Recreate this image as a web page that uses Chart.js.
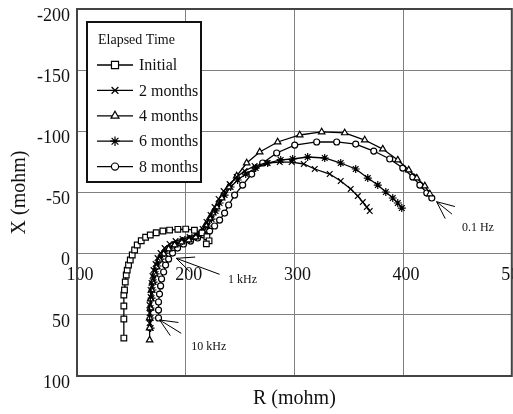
<!DOCTYPE html>
<html>
<head>
<meta charset="utf-8">
<script src="https://cdn.jsdelivr.net/npm/chart.js@4.4.1/dist/chart.umd.min.js"></script>
<style>
  html, body { margin: 0; padding: 0; background: #fff; overflow: hidden; }
  #wrap { width: 513px; height: 414px; overflow: hidden; }
</style>
</head>
<body>
<div id="wrap"><canvas id="nyquist" width="517" height="414"></canvas></div>
<script>
// Nyquist plot, R (mohm) vs X (mohm)
const seriesNames = ['Initial', '2 months', '4 months', '6 months', '8 months'];

const rInitial = [143.1, 143.1, 143.1, 143.1, 143.7, 144.4, 145.3, 146.2, 147.4, 149.0, 150.8, 153.0, 155.4, 159.1, 163.1, 167.4, 172.9, 179.0, 185.2, 192.8, 200.0, 208.0, 215.0, 219.5, 221.5, 219.0];
const xInitial = [69.0, 53.4, 42.8, 33.8, 29.7, 23.2, 17.4, 13.4, 9.3, 5.2, 1.1, -3.0, -7.1, -10.6, -13.4, -15.3, -17.1, -18.5, -19.3, -19.9, -20.1, -19.2, -17.0, -13.8, -10.5, -8.0];

const r2Months = [166.8, 166.8, 166.8, 167.7, 167.7, 168.6, 169.5, 170.4, 172.3, 174.1, 176.9, 180.6, 185.2, 190.7, 197.1, 203.6, 210.0, 215.6, 219.2, 222.9, 226.6, 230.3, 234.9, 240.4, 246.9, 254.2, 263.4, 274.5, 286.5, 297.5, 308.6, 318.7, 332.5, 342.6, 351.8, 358.3, 362.9, 366.6, 369.3];
const x2Months = [56.7, 48.5, 42.0, 35.4, 29.7, 24.0, 18.3, 13.4, 8.5, 3.6, -0.5, -4.6, -7.9, -10.3, -12.0, -13.6, -16.1, -20.2, -25.9, -31.6, -38.1, -44.7, -51.2, -56.9, -62.7, -67.6, -71.7, -74.1, -74.9, -74.9, -73.3, -69.2, -65.1, -59.4, -52.9, -47.1, -42.2, -38.1, -34.9];

const r4Months = [166.8, 166.8, 166.8, 167.7, 167.7, 168.6, 169.5, 171.4, 173.2, 176.0, 179.7, 184.3, 189.8, 196.2, 202.7, 209.1, 214.6, 218.3, 222.0, 224.8, 228.5, 233.1, 239.5, 246.9, 256.1, 268.1, 284.6, 304.9, 325.1, 346.3, 364.7, 381.3, 395.1, 405.2, 412.6, 420.0, 424.6];
const x4Months = [70.6, 60.8, 52.6, 44.4, 37.1, 29.7, 23.2, 16.6, 10.9, 5.2, 0.3, -3.8, -7.1, -9.5, -11.2, -13.6, -17.7, -23.4, -29.1, -33.2, -38.1, -45.5, -54.5, -63.5, -74.1, -83.1, -91.3, -97.0, -99.5, -98.7, -92.9, -85.5, -76.5, -68.4, -61.8, -55.3, -48.8];

const r6Months = [167.7, 167.7, 167.7, 168.6, 169.5, 170.4, 172.3, 174.1, 176.9, 180.6, 185.2, 190.7, 197.1, 203.6, 210.0, 215.6, 220.2, 223.8, 227.5, 231.2, 235.8, 241.3, 247.8, 255.2, 264.4, 275.4, 287.4, 298.4, 312.2, 327.9, 342.6, 356.4, 367.5, 376.7, 384.1, 390.5, 395.1, 398.8];
const x6Months = [60.8, 52.6, 44.4, 36.3, 29.7, 23.2, 16.6, 10.1, 4.4, -0.5, -4.6, -7.9, -10.3, -12.0, -14.4, -17.7, -22.6, -28.3, -34.9, -41.4, -47.9, -54.5, -60.2, -65.1, -70.0, -74.1, -76.6, -77.4, -79.0, -78.2, -74.1, -69.2, -61.8, -56.1, -50.4, -45.5, -41.4, -37.3];

const r8Months = [175.0, 175.0, 175.0, 175.9, 176.9, 177.8, 179.7, 181.5, 184.3, 187.9, 192.5, 198.1, 204.5, 211.0, 216.5, 222.0, 226.6, 231.2, 235.8, 239.5, 245.0, 252.4, 260.7, 270.8, 283.7, 300.3, 320.5, 338.9, 356.4, 373.0, 387.7, 399.7, 408.9, 415.4, 421.8, 426.4];
const x8Months = [52.6, 46.1, 39.5, 33.0, 26.4, 20.7, 15.0, 9.3, 4.4, -0.5, -4.6, -7.9, -10.3, -12.8, -15.3, -18.5, -22.6, -27.5, -33.2, -39.8, -47.9, -56.1, -65.1, -74.1, -82.3, -88.8, -91.3, -91.3, -89.6, -83.9, -77.4, -70.0, -62.7, -56.1, -49.6, -45.5];

// frequency notes (in data units)
const noteLabels = ['0.1 Hz', '1 kHz', '10 kHz'];
const noteTipR = [430.8, 191.3, 176.0];
const noteTipX = [-42.5, 3.8, 54.2];
const noteTailR = [444.9, 231.2, 195.9];
const noteTailX = [-32.4, 16.9, 65.1];
const noteTextR = [454.1, 238.9, 205.2];
const noteTextX = [-21.0, 21.5, 76.1];

const SERIF = '"Liberation Serif", "DejaVu Serif", serif';

function toPoints(r, x) {
    return r.map((v, i) => ({ x: v, y: x[i] }));
}

const markers = [
    { style: 'rect', radius: 4, legendRadius: 5 },
    { style: 'crossRot', radius: 4, legendRadius: 4.8 },
    { style: 'triangle', radius: 3.7, legendRadius: 4.6 },
    { style: 'star', radius: 4, legendRadius: 4.8 },
    { style: 'circle', radius: 3, legendRadius: 3.6 }
];

const seriesData = [
    toPoints(rInitial, xInitial),
    toPoints(r2Months, x2Months),
    toPoints(r4Months, x4Months),
    toPoints(r6Months, x6Months),
    toPoints(r8Months, x8Months)
];

const datasets = seriesNames.map((name, i) => ({
    label: name,
    data: seriesData[i],
    showLine: true,
    borderColor: '#000',
    backgroundColor: '#fff',
    borderWidth: 1.3,
    tension: 0,
    pointStyle: markers[i].style,
    pointRadius: markers[i].radius,
    pointBorderColor: '#000',
    pointBackgroundColor: '#fff',
    pointBorderWidth: 1.2
}));

const notesPlugin = {
    id: 'notes',
    afterDatasetsDraw(chart) {
        const { ctx, chartArea: a, scales: { x, y } } = chart;
        ctx.save();
        ctx.strokeStyle = '#000';
        ctx.lineWidth = 1;
        ctx.fillStyle = '#111';
        ctx.font = '12px ' + SERIF;
        ctx.textBaseline = 'middle';
        noteLabels.forEach((text, i) => {
            const tx = x.getPixelForValue(noteTipR[i]);
            const ty = y.getPixelForValue(noteTipX[i]);
            const ex = x.getPixelForValue(noteTailR[i]);
            const ey = y.getPixelForValue(noteTailX[i]);
            const ang = Math.atan2(ey - ty, ex - tx);
            ctx.beginPath();
            ctx.moveTo(tx, ty);
            ctx.lineTo(ex, ey);
            [-0.42, 0.42].forEach(d => {
                ctx.moveTo(tx, ty);
                ctx.lineTo(tx + 19 * Math.cos(ang + d), ty + 19 * Math.sin(ang + d));
            });
            ctx.stroke();
            ctx.fillText(text, x.getPixelForValue(noteTextR[i]), y.getPixelForValue(noteTextX[i]));
        });
        // plot frame
        ctx.strokeStyle = '#444';
        ctx.lineWidth = 2;
        ctx.strokeRect(a.left, a.top, a.width, a.height);
        ctx.restore();
    },
    afterDraw(chart) {
        const { ctx, chartArea: a } = chart;
        const drawPoint = Chart.helpers && Chart.helpers.drawPoint;
        const left = a.left + 10, top = a.top + 13;
        ctx.save();
        ctx.fillStyle = '#fff';
        ctx.fillRect(left, top, 114, 160);
        ctx.strokeStyle = '#111';
        ctx.lineWidth = 2;
        ctx.strokeRect(left, top, 114, 160);

        ctx.fillStyle = '#111';
        ctx.textBaseline = 'middle';
        ctx.font = '14px ' + SERIF;
        ctx.fillText('Elapsed Time', left + 11, top + 18);

        ctx.font = '16px ' + SERIF;
        seriesNames.forEach((name, i) => {
            const ly = top + 43 + i * 25.4;
            ctx.strokeStyle = '#000';
            ctx.lineWidth = 1.3;
            ctx.beginPath();
            ctx.moveTo(left + 10, ly);
            ctx.lineTo(left + 46, ly);
            ctx.stroke();
            ctx.fillStyle = '#fff';
            ctx.lineWidth = 1.2;
            if (drawPoint) {
                drawPoint(ctx, { pointStyle: markers[i].style, radius: markers[i].legendRadius, rotation: 0, borderWidth: 1.2 }, left + 28, ly);
            }
            ctx.fillStyle = '#111';
            ctx.fillText(name, left + 52, ly + 1);
        });
        ctx.restore();
    }
};

new Chart(document.getElementById('nyquist'), {
    type: 'scatter',
    data: { datasets: datasets },
    options: {
        responsive: false,
        animation: false,
        layout: { padding: { top: 9, right: 0, left: 0, bottom: 0 } },
        plugins: {
            legend: { display: false },
            tooltip: { enabled: false }
        },
        scales: {
            x: {
                type: 'linear',
                position: { y: 0 },
                min: 100,
                max: 500,
                ticks: {
                    stepSize: 100,
                    padding: 11,
                    labelOffset: 3,
                    color: '#111',
                    font: { family: SERIF, size: 18 }
                },
                grid: { color: '#808080', lineWidth: 1, drawTicks: false },
                border: { display: false },
                afterFit(scale) {
                    scale.paddingLeft = 0;
                    scale.paddingRight = 0;
                }
            },
            xt: {
                type: 'linear',
                axis: 'x',
                position: 'bottom',
                min: 100,
                max: 500,
                ticks: { display: false },
                grid: { display: false },
                border: { display: false },
                title: {
                    display: true,
                    text: 'R (mohm)',
                    color: '#111',
                    font: { family: SERIF, size: 20 },
                    padding: { top: 0, bottom: 3 }
                },
                afterFit(scale) {
                    scale.height = 38;
                    scale.paddingLeft = 0;
                    scale.paddingRight = 0;
                }
            },
            y: {
                type: 'linear',
                position: 'left',
                reverse: true,
                min: -200,
                max: 100,
                ticks: {
                    stepSize: 50,
                    padding: 7,
                    labelOffset: 7,
                    color: '#111',
                    font: { family: SERIF, size: 18 }
                },
                grid: { color: '#808080', lineWidth: 1, drawTicks: false },
                border: { display: false },
                title: {
                    display: true,
                    text: 'X (mohm)',
                    color: '#111',
                    font: { family: SERIF, size: 20 },
                    padding: { top: 8, bottom: 0 }
                },
                afterFit(scale) {
                    scale.width = 77;
                    scale.paddingTop = 0;
                    scale.paddingBottom = 0;
                }
            }
        }
    },
    plugins: [notesPlugin]
});
</script>
</body>
</html>
